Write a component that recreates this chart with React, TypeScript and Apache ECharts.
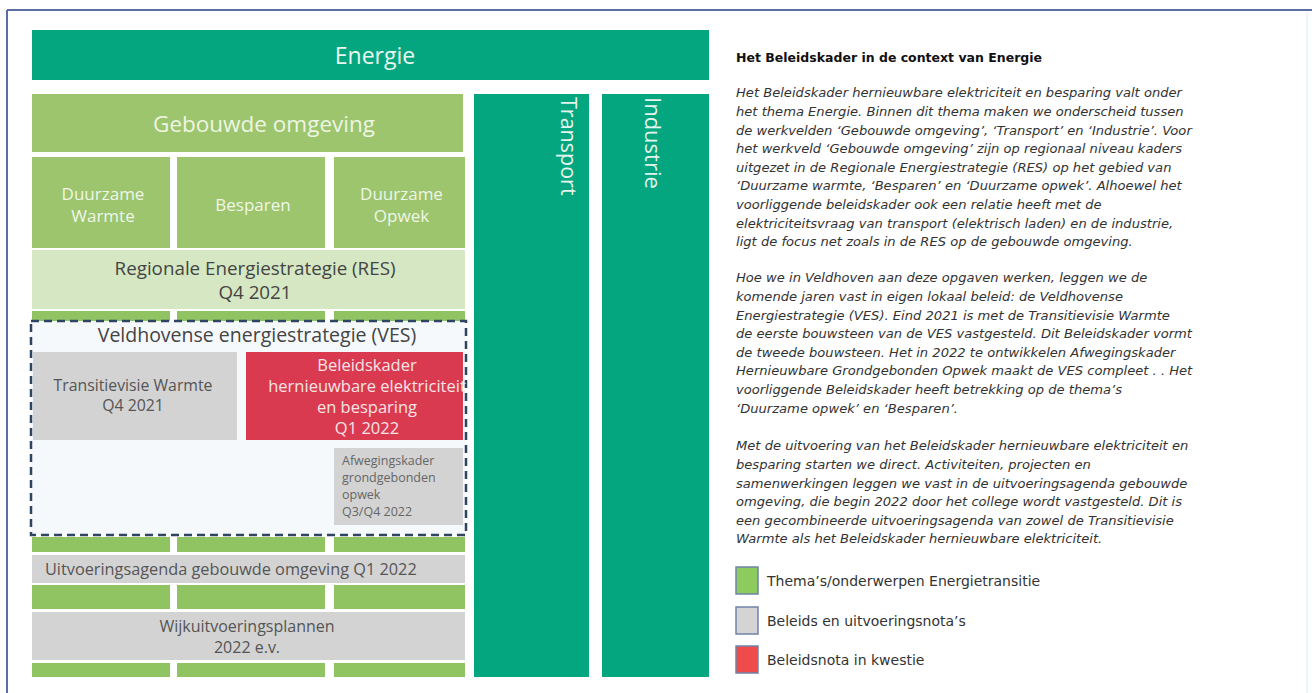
import React, { useEffect, useRef } from "react";
import * as echarts from "echarts";

// ---- content ----
const domainLabel = "Energie";
const sectorLabels = ["Transport", "Industrie"];
const builtEnvLabel = "Gebouwde omgeving";
const subThemeLabels = ["Duurzame\nWarmte", "Besparen", "Duurzame\nOpwek"];
const resLabel = "Regionale Energiestrategie (RES)\nQ4 2021";
const vesLabel = "Veldhovense energiestrategie (VES)";
const transitieLabel = "Transitievisie Warmte\nQ4 2021";
const beleidsLabel = "Beleidskader\nhernieuwbare elektriciteit\nen besparing\nQ1 2022";
const afwegingLabel = "Afwegingskader\ngrondgebonden\nopwek\nQ3/Q4 2022";
const agendaLabel = "Uitvoeringsagenda gebouwde omgeving Q1 2022";
const wijkLabel = "Wijkuitvoeringsplannen\n2022 e.v.";

const panelTitle = "Het Beleidskader in de context van Energie";
const paragraph1 = [
  "Het Beleidskader hernieuwbare elektriciteit en besparing valt onder",
  "het thema Energie. Binnen dit thema maken we onderscheid tussen",
  "de werkvelden ‘Gebouwde omgeving’, ‘Transport’ en ‘Industrie’. Voor",
  "het werkveld ‘Gebouwde omgeving’ zijn op regionaal niveau kaders",
  "uitgezet in de Regionale Energiestrategie (RES) op het gebied van",
  "‘Duurzame warmte, ‘Besparen’ en ‘Duurzame opwek’. Alhoewel het",
  "voorliggende beleidskader ook een relatie heeft met de",
  "elektriciteitsvraag van transport (elektrisch laden) en de industrie,",
  "ligt de focus net zoals in de RES op de gebouwde omgeving.",
];
const paragraph2 = [
  "Hoe we in Veldhoven aan deze opgaven werken, leggen we de",
  "komende jaren vast in eigen lokaal beleid: de Veldhovense",
  "Energiestrategie (VES). Eind 2021 is met de Transitievisie Warmte",
  "de eerste bouwsteen van de VES vastgesteld. Dit Beleidskader vormt",
  "de tweede bouwsteen. Het in 2022 te ontwikkelen Afwegingskader",
  "Hernieuwbare Grondgebonden Opwek maakt de VES compleet . . Het",
  "voorliggende Beleidskader heeft betrekking op de thema’s",
  "‘Duurzame opwek’ en ‘Besparen’.",
];
const paragraph3 = [
  "Met de uitvoering van het Beleidskader hernieuwbare elektriciteit en",
  "besparing starten we direct. Activiteiten, projecten en",
  "samenwerkingen leggen we vast in de uitvoeringsagenda gebouwde",
  "omgeving, die begin 2022 door het college wordt vastgesteld. Dit is",
  "een gecombineerde uitvoeringsagenda van zowel de Transitievisie",
  "Warmte als het Beleidskader hernieuwbare elektriciteit.",
];
const legendLabels = [
  "Thema’s/onderwerpen Energietransitie",
  "Beleids en uitvoeringsnota’s",
  "Beleidsnota in kwestie",
];

// ---- styles ----
const C = {
  teal: "#03A67E",
  green: "#9CC56D",
  strip: "#90C462",
  resGreen: "#D5E8C3",
  gray: "#D3D3D3",
  red: "#D93A4F",
  vesFill: "#F5F9FC",
  vesStroke: "#2E4562",
  frame: "#5A6EA3",
};
const legendColors = ["#8DCB5E", "#D4D4D4", "#F04B4B"];
const OS = "'Open Sans', sans-serif";
const DJ = "'DejaVu Sans', Verdana, sans-serif";

const cols: [number, number][] = [
  [32, 170],
  [177, 325],
  [334, 465],
];

function rect(x: number, y: number, w: number, h: number, fill: string, extra: any = {}) {
  return { type: "rect", shape: { x, y, width: w, height: h }, style: { fill, ...extra }, silent: true };
}
function txt(text: string, x: number, y: number, size: number, fill: string, o: any = {}) {
  return {
    type: "text",
    x,
    y,
    rotation: o.rotation || 0,
    z: o.z || 10,
    silent: true,
    style: {
      text,
      fontSize: size,
      fontFamily: o.family || OS,
      fontWeight: o.weight || "normal",
      fontStyle: o.fontStyle || "normal",
      fill,
      textAlign: o.align || "center",
      textVerticalAlign: o.valign || "middle",
      lineHeight: o.lineHeight || Math.round(size * 1.3),
    },
  };
}

function stripRow(y1: number, y2: number) {
  return cols.map(([a, b]) => rect(a, y1, b - a, y2 - y1, C.strip));
}

export default function App() {
  const ref = useRef<HTMLDivElement>(null);
  useEffect(() => {
    if (!ref.current) return;
    const chart = echarts.init(ref.current, null, { renderer: "svg" });
    const g: any[] = [];

    // frame
    g.push({ type: "line", shape: { x1: 7, y1: 10, x2: 1312, y2: 10 }, style: { stroke: C.frame, lineWidth: 2 }, silent: true });
    g.push({ type: "line", shape: { x1: 7, y1: 10, x2: 7, y2: 693 }, style: { stroke: C.frame, lineWidth: 2 }, silent: true });
    g.push({ type: "line", shape: { x1: 1307, y1: 12, x2: 1307, y2: 693 }, style: { stroke: "#E6F3F6", lineWidth: 1.5 }, silent: true });

    // Energie
    g.push(rect(32, 30, 677, 50, C.teal));
    g.push(txt(domainLabel, 375, 55, 23, "#EAF7F0"));

    // Transport / Industrie
    g.push(rect(474, 94, 115, 583, C.teal));
    g.push(rect(602, 94, 107, 583, C.teal));
    g.push(txt(sectorLabels[0], 569, 97, 21.5, "#E3F4EC", { rotation: -Math.PI / 2, align: "left" }));
    g.push(txt(sectorLabels[1], 654, 97, 22, "#E3F4EC", { rotation: -Math.PI / 2, align: "left" }));

    // Gebouwde omgeving
    g.push(rect(32, 94, 431, 58, C.green));
    g.push(txt(builtEnvLabel, 264, 123, 22.5, "#EEF5E4"));

    // sub themes
    cols.forEach(([a, b], i) => {
      g.push(rect(a, 157, b - a, 91, C.green));
      g.push(txt(subThemeLabels[i], (a + b) / 2 + 2, 204, 17, "#F0F6E8", { lineHeight: 22 }));
    });

    // RES
    g.push(rect(32, 250, 433, 59, C.resGreen));
    g.push(txt(resLabel, 255, 280, 18.8, "#444444", { lineHeight: 24.5 }));

    g.push(...stripRow(311, 323));

    // VES dashed box
    g.push({
      type: "rect",
      shape: { x: 31, y: 321, width: 435, height: 214 },
      style: { fill: C.vesFill, stroke: C.vesStroke, lineWidth: 2.5, lineDash: [8, 5] },
      silent: true,
      z: 5,
    });
    g.push(txt(vesLabel, 257, 334, 19.5, "#444444"));
    g.push({ ...rect(33, 352, 204, 88, C.gray), z: 6 });
    g.push(txt(transitieLabel, 133, 395, 15.8, "#555555", { lineHeight: 20 }));
    g.push({ ...rect(246, 352, 217, 88, C.red), z: 6 });
    g.push(txt(beleidsLabel, 367, 396, 16.5, "#F8E4E7", { lineHeight: 20.7, z: 12 }));
    g.push({ ...rect(334, 448, 129, 77, C.gray), z: 6 });
    g.push(txt(afwegingLabel, 342, 486, 12.5, "#666666", { align: "left", lineHeight: 16.7 }));

    // lower rows
    g.push(...stripRow(537, 552));
    g.push(rect(32, 555, 433, 28, C.gray));
    g.push(txt(agendaLabel, 45, 569, 16.3, "#555555", { align: "left" }));
    g.push(...stripRow(585, 609));
    g.push(rect(32, 612, 433, 48, C.gray));
    g.push(txt(wijkLabel, 247, 636, 16, "#555555", { lineHeight: 21 }));
    g.push(...stripRow(663, 677));

    // text panel
    g.push(txt(panelTitle, 736, 57, 12.5, "#111111", { family: DJ, weight: "bold", align: "left" }));
    const LH = 18.6;
    const para = (lines: string[], firstY: number) =>
      txt(lines.join("\n"), 736, firstY - LH / 2, 13.1, "#333333", {
        family: DJ,
        fontStyle: "italic",
        align: "left",
        valign: "top",
        lineHeight: LH,
      });
    g.push(para(paragraph1, 93));
    g.push(para(paragraph2, 278));
    g.push(para(paragraph3, 446));

    // legend
    const ly = [567, 607, 646];
    legendLabels.forEach((l, i) => {
      g.push(rect(736, ly[i], 22, 27, legendColors[i], { stroke: "#7183A8", lineWidth: 1.5 }));
      g.push(txt(l, 767, ly[i] + 14, 14, "#333333", { family: DJ, align: "left" }));
    });

    chart.setOption({
      animation: false,
      backgroundColor: "#ffffff",
      graphic: { elements: g },
    });
    return () => chart.dispose();
  }, []);
  return (
    <div
      ref={ref}
      style={{ position: "fixed", left: 0, top: 0, width: 1312, height: 693, background: "#fff" }}
    />
  );
}
